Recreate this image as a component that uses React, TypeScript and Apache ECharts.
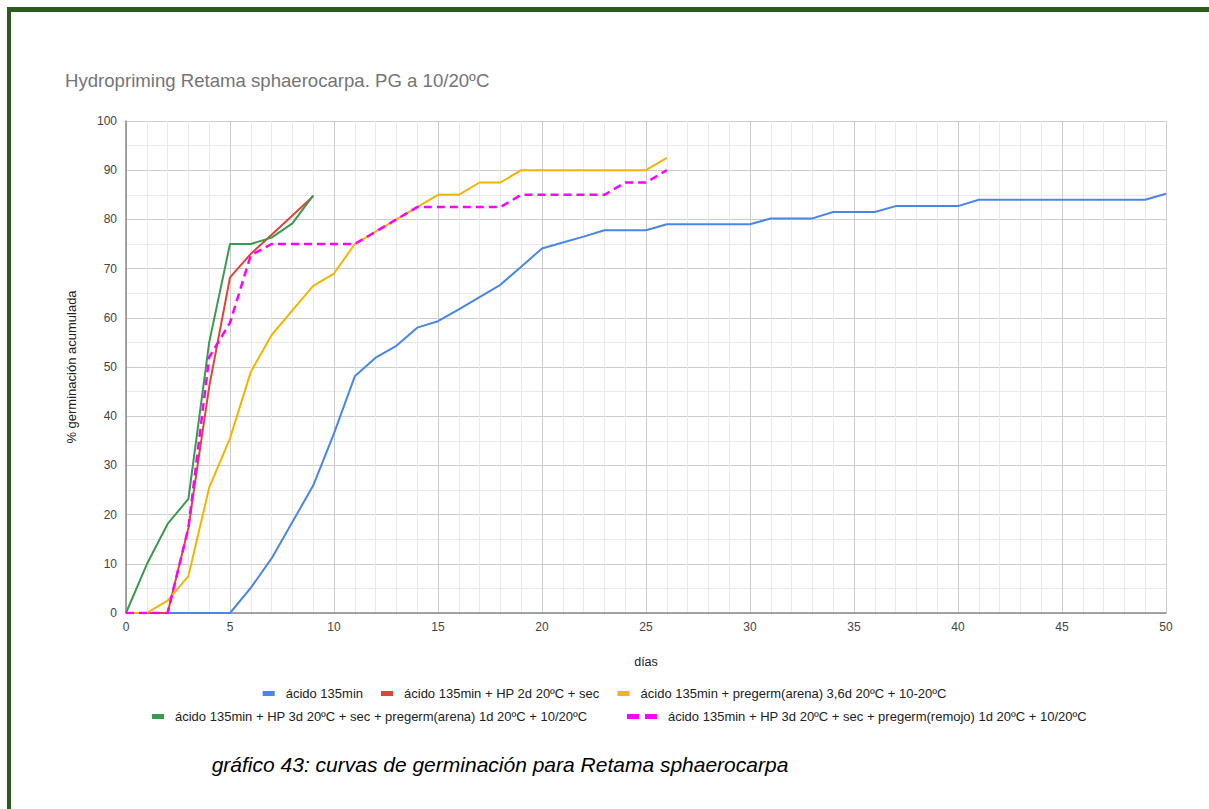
import React, { useEffect, useRef } from "react";
import * as echarts from "echarts";

const FONT = '"Liberation Sans", Arial, sans-serif';

const chartTitle = "Hydropriming Retama sphaerocarpa. PG a 10/20ºC";
const caption = "gráfico 43: curvas de germinación para Retama sphaerocarpa";
const xName = "días";
const yName = "% germinación acumulada";

const days = [
  0, 1, 2, 3, 4, 5, 6, 7, 8, 9, 10, 11, 12, 13, 14, 15, 16, 17, 18, 19, 20,
  21, 22, 23, 24, 25, 26, 27, 28, 29, 30, 31, 32, 33, 34, 35, 36, 37, 38, 39,
  40, 41, 42, 43, 44, 45, 46, 47, 48, 49, 50,
];

const seriesNames = [
  "ácido 135min",
  "ácido 135min + HP 2d 20ºC + sec",
  "ácido 135min + pregerm(arena) 3,6d 20ºC + 10-20ºC",
  "ácido 135min + HP 3d 20ºC + sec + pregerm(arena) 1d 20ºC + 10/20ºC",
  "ácido 135min + HP 3d 20ºC + sec + pregerm(remojo) 1d 20ºC + 10/20ºC",
];

const seriesColors = ["#4a86e8", "#df4536", "#f4b400", "#3a9a50", "#ff00ff"];

// ácido 135min (días 0-50)
const acido = [
  0, 0, 0, 0, 0, 0, 5.1, 11.1, 18.5, 25.9, 36.5, 48.1, 51.9, 54.3, 58.0, 59.3,
  61.7, 64.2, 66.7, 70.4, 74.1, 75.3, 76.5, 77.8, 77.8, 77.8, 79.0, 79.0, 79.0,
  79.0, 79.0, 80.2, 80.2, 80.2, 81.5, 81.5, 81.5, 82.7, 82.7, 82.7, 82.7, 84.0,
  84.0, 84.0, 84.0, 84.0, 84.0, 84.0, 84.0, 84.0, 85.2,
];
// ácido 135min + HP 2d (días 0-9)
const hp2d = [0, 0, 0, 17.3, 46, 68.2, 73, 76.9, 80.8, 84.7];
// ácido 135min + pregerm(arena) 3,6d (días 0-26)
const pregermArena = [
  0, 0, 2.5, 7.5, 25.5, 35.5, 49, 56.5, 61.5, 66.5, 69, 75, 77.5, 80, 82.5, 85,
  85, 87.5, 87.5, 90, 90, 90, 90, 90, 90, 90, 92.5,
];
// HP 3d + pregerm(arena) 1d (días 0-9)
const hp3dArena = [0, 9.9, 18.1, 23.2, 55, 75, 75, 76.3, 79.2, 84.9];
// HP 3d + pregerm(remojo) 1d (días 0-26)
const hp3dRemojo = [
  0, 0, 0, 17.3, 52, 59, 72.7, 75, 75, 75, 75, 75, 77.5, 80, 82.5, 82.5, 82.5,
  82.5, 82.5, 85, 85, 85, 85, 85, 87.5, 87.5, 90,
];

const allValues = [acido, hp2d, pregermArena, hp3dArena, hp3dRemojo];

function toPairs(vals: number[]) {
  return vals.map((v, i) => [days[i], v]);
}

export default function App() {
  const ref = useRef<HTMLDivElement>(null);

  useEffect(() => {
    if (!ref.current) return;
    const chart = echarts.init(ref.current, undefined, { renderer: "svg" });

    const series = allValues.map((vals, i) => ({
      name: seriesNames[i],
      type: "line",
      data: toPairs(vals),
      showSymbol: false,
      symbol: "none",
      color: seriesColors[i],
      lineStyle: {
        color: seriesColors[i],
        width: i === 4 ? 2.5 : 2,
        type: i === 4 ? [8, 5] : "solid",
      },
      z: 2 + i,
    }));

    const legendText = {
      fontSize: 13,
      color: "#222",
      fontFamily: FONT,
      padding: [0, 0, 0, 6],
    };

    chart.setOption({
      animation: false,
      backgroundColor: "#ffffff",
      textStyle: { fontFamily: FONT },
      title: {
        text: chartTitle,
        left: 60,
        top: 66,
        textStyle: {
          fontSize: 18.6,
          fontWeight: "normal",
          color: "#757575",
          fontFamily: FONT,
        },
      },
      grid: { left: 126, right: 43, top: 121, bottom: 196, containLabel: false },
      legend: [
        {
          data: [seriesNames[0], seriesNames[1], seriesNames[2]],
          left: "center",
          top: 682,
          icon: "rect",
          itemWidth: 12,
          itemHeight: 5,
          itemGap: 18,
          textStyle: legendText,
        },
        {
          data: [seriesNames[3]],
          left: 147,
          top: 705,
          icon: "rect",
          itemWidth: 12,
          itemHeight: 5,
          textStyle: legendText,
        },
        {
          data: [
            {
              name: seriesNames[4],
              icon: "path://M0 0H12V5H0Z M18 0H30V5H18Z",
            },
          ],
          left: 622,
          top: 705,
          itemWidth: 30,
          itemHeight: 5,
          textStyle: legendText,
        },
      ],
      xAxis: {
        type: "value",
        min: 0,
        max: 50,
        interval: 5,
        name: xName,
        nameLocation: "middle",
        nameGap: 42,
        nameTextStyle: { fontSize: 12.5, color: "#222" },
        axisLine: { show: true, onZero: false, lineStyle: { color: "#8a8a8a", width: 1.5 } },
        axisTick: { show: false },
        axisLabel: { fontSize: 12, color: "#444", margin: 8 },
        splitLine: { show: true, lineStyle: { color: "#cccccc", width: 1 } },
        minorTick: { show: false, splitNumber: 5 },
        minorSplitLine: { show: true, lineStyle: { color: "#e9e9e9", width: 1 } },
      },
      yAxis: {
        type: "value",
        min: 0,
        max: 100,
        interval: 10,
        name: yName,
        nameLocation: "middle",
        nameGap: 48,
        nameTextStyle: { fontSize: 13, color: "#222" },
        axisLine: { show: true, lineStyle: { color: "#8a8a8a", width: 1.5 } },
        axisTick: { show: false },
        axisLabel: { fontSize: 12, color: "#444", margin: 9 },
        splitLine: { show: true, lineStyle: { color: "#cccccc", width: 1 } },
        minorTick: { show: false, splitNumber: 2 },
        minorSplitLine: { show: true, lineStyle: { color: "#e9e9e9", width: 1 } },
      },
      graphic: [
        {
          type: "rect",
          silent: true,
          shape: { x: 7, y: 7, width: 1202, height: 5 },
          style: { fill: "#2c5a1e" },
        },
        {
          type: "rect",
          silent: true,
          shape: { x: 7, y: 7, width: 4, height: 802 },
          style: { fill: "#2c5a1e" },
        },
        {
          type: "text",
          silent: true,
          x: 500,
          y: 764,
          style: {
            text: caption,
            font: 'italic 21px "Liberation Sans", Arial, sans-serif',
            fill: "#000000",
            textAlign: "center",
            textVerticalAlign: "middle",
            align: "center",
            verticalAlign: "middle",
          },
        },
      ],
      series,
    });

    return () => {
      chart.dispose();
    };
  }, []);

  return (
    <div
      style={{
        position: "fixed",
        left: 0,
        top: 0,
        width: 1209,
        height: 809,
        background: "#ffffff",
      }}
    >
      <div ref={ref} style={{ width: 1209, height: 809 }} />
    </div>
  );
}
